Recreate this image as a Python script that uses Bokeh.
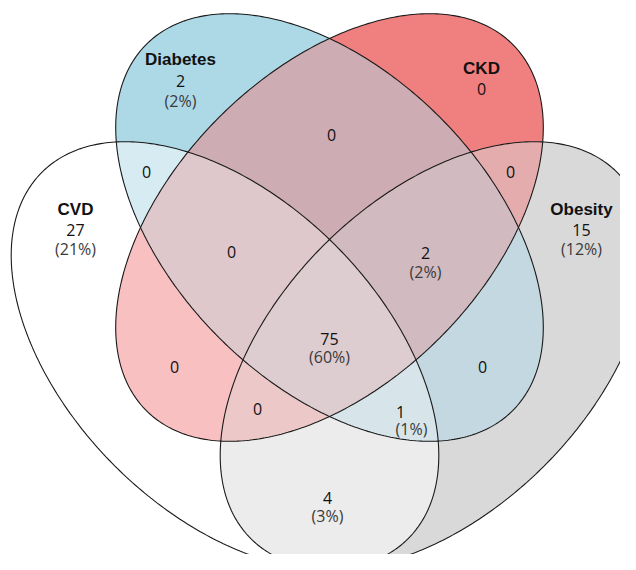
import numpy as np
from bokeh.plotting import figure
from bokeh.models import Range1d
from bokeh.embed import file_html
from bokeh.resources import INLINE
from bokeh.core.properties import value

# ---------------- data ----------------
set_names = ["CVD", "Diabetes", "CKD", "Obesity"]
set_colors = ["#FFFFFF", "#ADD8E6", "#F08080", "#D9D9D9"]

# regions as membership tuples (index into set_names)
region_sets = [(0,), (1,), (2,), (3,),
               (0, 1), (0, 2), (0, 3), (1, 2), (1, 3), (2, 3),
               (0, 1, 2), (0, 1, 3), (0, 2, 3), (1, 2, 3),
               (0, 1, 2, 3)]
region_counts = [27, 2, 0, 15,
                 0, 0, 4, 0, 0, 0,
                 0, 1, 0, 2,
                 75]

# ---------------- layout (picture pixel coords, y down) ----------------
ell_cx = [224.5, 329.0, 329.0, 433.5]
ell_cy = [355.0, 227.0, 227.0, 355.0]
ell_a = 259.0
ell_b = 156.0
ell_ang = [-45.0, -45.0, 45.0, 45.0]

name_pos = [(75, 209), (180, 59), (481, 68), (581, 209)]
count_pos = [(75, 229), (180, 80), (481, 88), (581, 229),
             (146, 171), (174, 366), (327, 497), (331, 134), (482, 366), (510, 171),
             (231, 251), (400, 411), (257, 408), (425, 252),
             (329, 338)]
pct_pos = [(75, 248), (180, 100), (481, 108), (581, 248),
           (146, 190), (174, 385), (327, 515), (331, 153), (482, 385), (510, 190),
           (231, 270), (411, 428), (257, 427), (425, 271),
           (329, 356)]

H = 570.0  # data y = H - pixel y


def Y(py):
    return H - py


def ellipse_poly(cx, cy, a, b, ang_deg, n=400):
    t = np.linspace(0, 2 * np.pi, n, endpoint=False)
    ang = np.deg2rad(ang_deg)
    x = cx + a * np.cos(t) * np.cos(ang) - b * np.sin(t) * np.sin(ang)
    y = cy + a * np.cos(t) * np.sin(ang) + b * np.sin(t) * np.cos(ang)
    return list(zip(x.tolist(), y.tolist()))


def clip(subject, clipper):
    out = subject
    n = len(clipper)
    for i in range(n):
        if not out:
            break
        ax, ay = clipper[i]
        bx, by = clipper[(i + 1) % n]
        ex, ey = bx - ax, by - ay
        inp = out
        out = []
        cs = [ex * (py - ay) - ey * (px - ax) for (px, py) in inp]
        sp = inp[-1]
        sc = cs[-1]
        for ep, ec in zip(inp, cs):
            if ec >= 0:
                if sc < 0:
                    t = sc / (sc - ec)
                    out.append((sp[0] + t * (ep[0] - sp[0]), sp[1] + t * (ep[1] - sp[1])))
                out.append(ep)
            elif sc >= 0:
                t = sc / (sc - ec)
                out.append((sp[0] + t * (ep[0] - sp[0]), sp[1] + t * (ep[1] - sp[1])))
            sp, sc = ep, ec
    return out


polys = [ellipse_poly(ell_cx[i], Y(ell_cy[i]), ell_a, ell_b, ell_ang[i]) for i in range(4)]


def hex2rgb(h):
    return tuple(int(h[k:k + 2], 16) for k in (1, 3, 5))


rgb = [hex2rgb(c) for c in set_colors]

p = figure(width=620, height=554, x_range=Range1d(0, 620), y_range=Range1d(16, 570),
           output_backend="svg", toolbar_location=None, min_border=0)
p.axis.visible = False
p.grid.visible = False
p.outline_line_color = None
p.background_fill_color = "white"

order = sorted(range(len(region_sets)), key=lambda k: len(region_sets[k]))
xs, ys, cols = [], [], []
for k in order:
    s = region_sets[k]
    poly = polys[s[0]]
    for j in s[1:]:
        poly = clip(poly, polys[j])
    if not poly:
        continue
    c = np.mean([rgb[j] for j in s], axis=0)
    cols.append("#%02x%02x%02x" % tuple(int(round(v)) for v in c))
    xs.append([pt[0] for pt in poly])
    ys.append([pt[1] for pt in poly])
p.patches(xs, ys, fill_color=cols, line_color=None)

for i in range(4):
    p.patch([pt[0] for pt in polys[i]], [pt[1] for pt in polys[i]],
            fill_color=None, line_color="#1a1a1a", line_width=1.1)

total = sum(region_counts)
cx_, cy_, ct_ = [], [], []
px_, py_, pt_ = [], [], []
for k, cnt in enumerate(region_counts):
    cx_.append(count_pos[k][0]); cy_.append(Y(count_pos[k][1])); ct_.append(str(cnt))
    if cnt > 0:
        px_.append(pct_pos[k][0]); py_.append(Y(pct_pos[k][1]))
        pt_.append("(%d%%)" % int(round(100.0 * cnt / total)))

p.text([q[0] for q in name_pos], [Y(q[1]) for q in name_pos], text=set_names,
       text_font=value("Liberation Sans"), text_font_style="bold", text_font_size="17px",
       text_align="center", text_baseline="middle", text_color="#111111")
p.text(cx_, cy_, text=ct_, text_font=value("Open Sans"), text_font_size="16px",
       text_align="center", text_baseline="middle", text_color="#111111")
p.text(px_, py_, text=pt_, text_font=value("Open Sans"), text_font_size="16px",
       text_align="center", text_baseline="middle", text_color="#3a3a3a")

open("out.html", "w").write(file_html(p, INLINE))
